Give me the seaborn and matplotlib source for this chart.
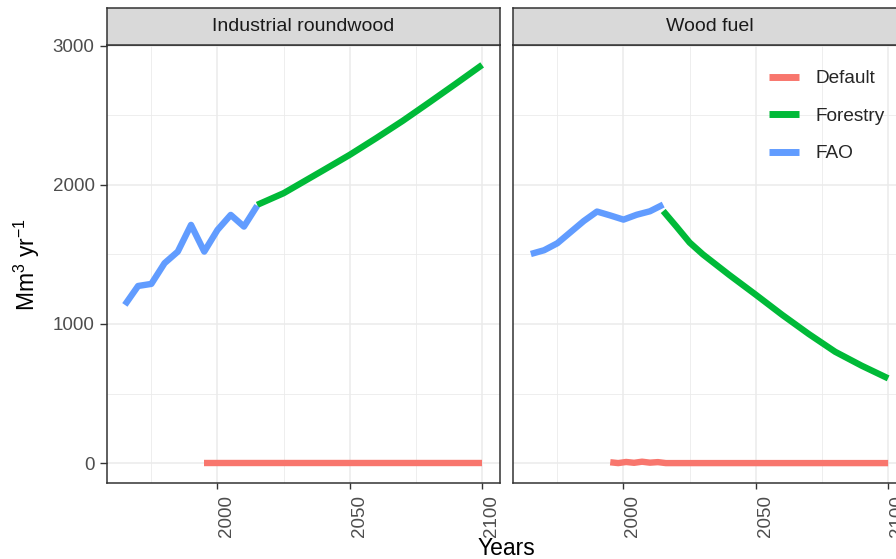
import matplotlib
matplotlib.use("Agg")
import matplotlib.pyplot as plt
import matplotlib.transforms as mtransforms
import pandas as pd
import seaborn as sns
from matplotlib.lines import Line2D

# ---- data -------------------------------------------------------------
panels = ["Industrial roundwood", "Wood fuel"]
scenarios = ["Default", "Forestry", "FAO"]
scenario_colors = ["#F8766D", "#00BA38", "#619CFF"]

fao_years = [1965, 1970, 1975, 1980, 1985, 1990, 1995, 2000, 2005, 2010, 2015]
fao_ir = [1137, 1273, 1288, 1437, 1520, 1712, 1520, 1676, 1784, 1700, 1850]
fao_wf = [1503, 1530, 1580, 1660, 1740, 1808, 1780, 1750, 1785, 1810, 1858]

forestry_years = [2015, 2020, 2025, 2030, 2040, 2050, 2060, 2070, 2080, 2090, 2100]
forestry_ir = [1856, 1898, 1940, 1995, 2105, 2216, 2336, 2460, 2592, 2726, 2862]
forestry_wf = [1812, 1700, 1585, 1500, 1352, 1210, 1065, 928, 800, 700, 609]

default_ir_years = [1995, 2100]
default_ir = [0, 0]
default_wf_years = [1995, 1998, 2001, 2004, 2007, 2010, 2013, 2016, 2100]
default_wf = [6, 0, 8, 2, 10, 3, 7, 0, 0]

y_ticks = [0, 1000, 2000, 3000]
x_ticks = [2000, 2050, 2100]
x_label = "Years"
y_label = r"Mm$^3$ yr$^{-1}$"

# ---- long table -------------------------------------------------------
rows = []
def add(panel, scen, years, vals):
    for yr, v in zip(years, vals):
        rows.append({"Panel": panel, "Scenario": scen, "Year": yr, "Value": v})

add(panels[0], "Default", default_ir_years, default_ir)
add(panels[0], "Forestry", forestry_years, forestry_ir)
add(panels[0], "FAO", fao_years, fao_ir)
add(panels[1], "Default", default_wf_years, default_wf)
add(panels[1], "Forestry", forestry_years, forestry_wf)
add(panels[1], "FAO", fao_years, fao_wf)
df = pd.DataFrame(rows)

# ---- style ------------------------------------------------------------
sns.set_theme(style="white")
plt.rcParams["font.family"] = ["Liberation Sans", "DejaVu Sans"]
plt.rcParams["mathtext.fontset"] = "custom"
plt.rcParams["mathtext.rm"] = "Liberation Sans"
plt.rcParams["mathtext.it"] = "Liberation Sans:italic"

W, H = 896, 559
fig = plt.figure(figsize=(W / 100, H / 100), dpi=100)
fig.patch.set_facecolor("white")

panel_left = [107, 513]
panel_w = 393
panel_top, panel_bot = 45, 483
strip_top = 8

tick_color = "#4D4D4D"
dark = "#333333"

# shared scales with 5% expansion, like the facet defaults
xmin, xmax = df["Year"].min(), df["Year"].max()
xpad = 0.05 * (xmax - xmin)
ymin, ymax = 0, df["Value"].max()
ypad = 0.05 * (ymax - ymin)

label_shift = mtransforms.ScaledTranslation(0.14, 0, fig.dpi_scale_trans)

for i, panel in enumerate(panels):
    l = panel_left[i]
    ax = fig.add_axes([l / W, 1 - panel_bot / H, panel_w / W,
                       (panel_bot - panel_top) / H])
    sub = df[df["Panel"] == panel]
    sns.lineplot(data=sub, x="Year", y="Value", hue="Scenario",
                 hue_order=scenarios, palette=scenario_colors,
                 estimator=None, sort=True, lw=4.6, legend=False, ax=ax,
                 solid_capstyle="butt", solid_joinstyle="round")
    ax.set_xlim(xmin - xpad, xmax + xpad)
    ax.set_ylim(ymin - ypad, ymax + ypad)
    ax.set_xticks(x_ticks)
    ax.set_xticks([1975, 2025, 2075], minor=True)
    ax.set_yticks(y_ticks)
    ax.set_yticks([500, 1500, 2500], minor=True)
    ax.grid(True, which="major", color="#EBEBEB", lw=1.1)
    ax.grid(True, which="minor", color="#EBEBEB", lw=0.6)
    ax.set_axisbelow(True)
    ax.set_xlabel("")
    ax.set_ylabel("")
    for s in ax.spines.values():
        s.set_color(dark)
        s.set_linewidth(1.1)
    ax.tick_params(axis="x", which="major", length=4.5, width=1.0, color=dark,
                   labelsize=13.5, labelcolor=tick_color, pad=4, bottom=True)
    ax.tick_params(which="minor", length=0)
    for lab in ax.get_xticklabels():
        lab.set_rotation(90)
        lab.set_rotation_mode("anchor")
        lab.set_horizontalalignment("right")
        lab.set_verticalalignment("baseline")
        lab.set_transform(lab.get_transform() + label_shift)
    if i == 0:
        ax.tick_params(axis="y", which="major", length=5, width=1.0,
                       color=dark, labelsize=13.5, labelcolor=tick_color,
                       pad=4, left=True)
    else:
        ax.tick_params(axis="y", left=False, labelleft=False)

    # facet strip
    sax = fig.add_axes([l / W, 1 - panel_top / H, panel_w / W,
                        (panel_top - strip_top) / H])
    sax.set_facecolor("#D9D9D9")
    sax.set_xticks([])
    sax.set_yticks([])
    for s in sax.spines.values():
        s.set_color(dark)
        s.set_linewidth(1.1)
    sax.text(0.5, 0.5, panel, ha="center", va="center", fontsize=14,
             color="#1A1A1A", transform=sax.transAxes)

# axis titles
fig.text(506 / W, 1 - 555 / H, x_label, ha="center", va="baseline",
         fontsize=16.5, color="black")
fig.text(27 / W, 1 - 264 / H, y_label, ha="center", va="center",
         rotation=90, fontsize=16.5, color="black")

# legend
handles = [Line2D([0], [0], color=c, lw=5, solid_capstyle="butt")
           for c in scenario_colors]
fig.legend(handles, scenarios, loc="upper left",
           bbox_to_anchor=(769 / W, 1 - 70 / H), bbox_transform=fig.transFigure,
           frameon=False, fontsize=13.7, handlelength=1.6, handletextpad=0.85,
           labelspacing=1.06, borderpad=0, borderaxespad=0)

fig.savefig("out.png", dpi=100, facecolor="white")
